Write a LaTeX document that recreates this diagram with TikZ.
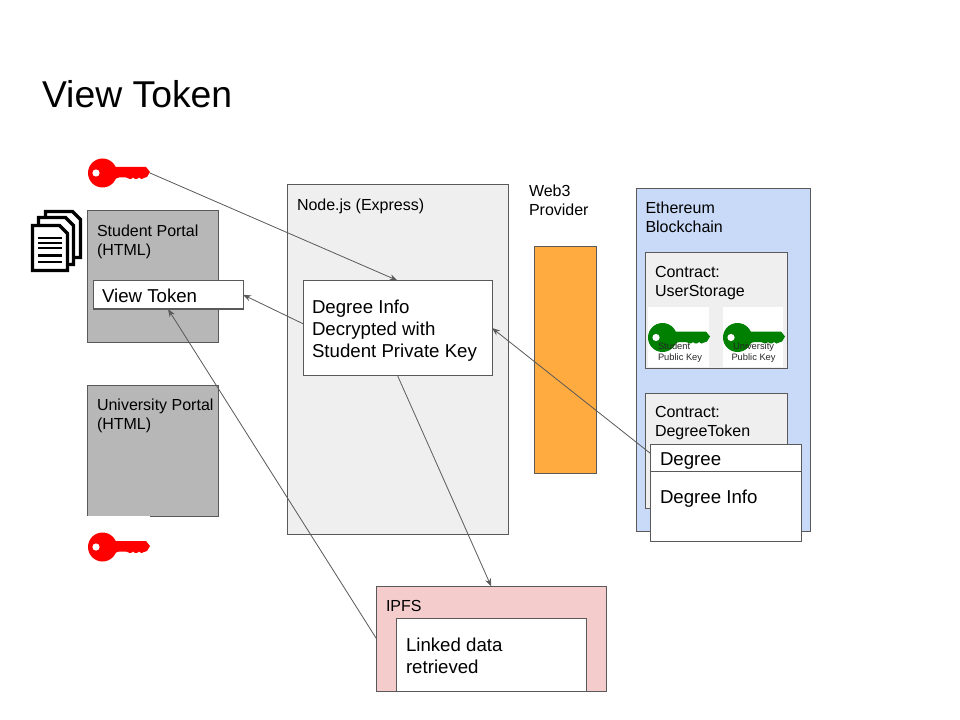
\documentclass[tikz,border=0pt]{standalone}
\usepackage{fontspec}
\setmainfont{Liberation Sans}
\usetikzlibrary{arrows.meta}
\definecolor{edgegray}{HTML}{595959}
\definecolor{panelgray}{HTML}{EFEFEF}
\definecolor{portalgray}{HTML}{B7B7B7}
\definecolor{chainblue}{HTML}{C9DAF8}
\definecolor{ipfspink}{HTML}{F4CCCC}
\definecolor{provorange}{HTML}{FFAB40}
\definecolor{keygreen}{HTML}{008000}
\definecolor{keyred}{HTML}{FF0000}
\newcommand{\bx}[6]{%
  \pgfmathsetlengthmacro{\bxw}{(#4-#2)*0.75pt}%
  \pgfmathsetlengthmacro{\bxh}{(#5-#3)*0.75pt}%
  \node[boxbase,#6,minimum width=\bxw,minimum height=\bxh] (#1) at ({(#2+#4)/2},{(#3+#5)/2}) {};}
\newcommand{\keyicon}[4]{% name, left x, centre y, colour
  \node[keyslot] (#1) at ({#2+31},#3) {};
  \begin{scope}[shift={(#2,#3)}]
    \fill[#4] (14.5,0) circle (14.5);
    \fill[#4]
      (25,-6) -- (58,-6) -- (62,-1) -- (59,4) -- (56,5)
      .. controls (55,6.5) and (52,6.5) .. (51,4.5)
      .. controls (50,6.5) and (46,6.5) .. (45,4.5)
      .. controls (44,6.5) and (40,6.5) .. (38,4.5)
      -- (31,4.5) -- (24,7) -- cycle;
    \fill[white] (8,0) circle (3.6);
  \end{scope}}
\newcommand{\docpage}[4]{% x0 y0 x1 y1 with fold
  \draw[black,line width=2.4pt,fill=white,line join=miter]
    (#1,#2) -- ({#3-8},#2) -- (#3,{#2+8}) -- (#3,#4) -- (#1,#4) -- cycle;}
\tikzset{
  boxbase/.style={rectangle,inner sep=0pt,outer sep=0pt,draw=edgegray,line width=0.75pt},
  keyslot/.style={rectangle,inner sep=0pt,outer sep=0pt,minimum width=46.5pt,minimum height=22.5pt},
  txt/.style={anchor=north west,inner sep=0pt,outer sep=0pt,align=left,text=black},
  mid/.style={txt,font=\fontsize{12}{14.3}\selectfont},
  big/.style={txt,font=\fontsize{14}{16.5}\selectfont},
  tiny/.style={txt,font=\fontsize{7}{8.3}\selectfont,text=black!85},
  link/.style={draw=edgegray,line width=0.6pt,-{Stealth[length=6pt,width=4.5pt]}}
}
\begin{document}
\begin{tikzpicture}[x=0.75pt,y=-0.75pt]
\useasboundingbox[fill=white] (0,0) rectangle (960,720);
\node[txt,font=\fontsize{28}{33}\selectfont] (title) at (42,80) {View Token};

% Document icon
\docpage{45.5}{211.5}{80.5}{257.5}
\docpage{38.5}{217.5}{73.5}{264.5}
\docpage{32.5}{225.5}{67.5}{270.5}
\foreach \ly in {238,243,248,255.5,262}{\draw[black,line width=1.9pt] (38,\ly) -- (62,\ly);}

% Portals
\bx{student}{87}{211}{218}{342}{fill=portalgray}
\bx{university}{87}{385.5}{218}{516.5}{fill=portalgray}
\fill[white] (85,516) rectangle (150,519);
\draw[edgegray,line width=0.75pt] (87,385.5) -- (87,516);
\node[mid] (studentlbl) at (97,225) {Student Portal\\(HTML)};
\node[mid] (universitylbl) at (97,399) {University Portal\\(HTML)};
\bx{viewtoken}{93}{280.5}{243}{309}{fill=white}
\node[big] (viewlbl) at (102,289) {View Token};

% Node.js
\bx{nodejs}{287}{185}{508}{534}{fill=panelgray}
\node[mid] (nodelbl) at (297,198.5) {Node.js (Express)};
\bx{info}{303}{280.5}{492}{375.5}{fill=white}
\node[big] (infolbl) at (312,299.5) {Degree Info\\Decrypted with\\Student Private Key};

% Provider
\node[mid] (weblbl) at (529,184.5) {Web3\\Provider};
\bx{provider}{534}{247}{596}{473}{fill=provorange}

% Ethereum
\bx{ethereum}{636}{189}{810}{531}{fill=chainblue}
\node[mid] (ethlbl) at (645.5,201.5) {Ethereum\\Blockchain};
\bx{userstorage}{645}{253}{787}{368}{fill=panelgray}
\node[mid] (userlbl) at (655,266.5) {Contract:\\UserStorage};
\fill[white] (648,307) rectangle (709,367.4);
\fill[white] (723,307) rectangle (783,367.4);
\keyicon{greenkeya}{648}{337.5}{keygreen}
\keyicon{greenkeyb}{723}{337.5}{keygreen}
\node[tiny] (stulbl) at (658,342.5) {Student\\Public Key};
\node[tiny,align=center] (unilbl) at (731.5,342.5) {University\\Public Key};
\bx{degreetoken}{645}{393}{787}{508}{fill=panelgray}
\node[mid] (tokenlbl) at (655,406.5) {Contract:\\DegreeToken};
\bx{degreeinfo}{650.5}{471}{801}{541}{fill=white}
\bx{degree}{650.5}{444}{801}{471}{fill=white}
\node[big] (degreelbl) at (660,452.5) {Degree};
\node[big] (degreeinfolbl) at (660,490) {Degree Info};

% IPFS
\bx{ipfs}{376.5}{586.5}{606}{691}{fill=ipfspink}
\node[mid] (ipfslbl) at (386,600) {IPFS};
\bx{linked}{396}{618}{586}{691}{fill=white}
\node[big] (linkedlbl) at (406,638) {Linked data\\retrieved};

% Keys
\keyicon{redkeya}{88}{173}{keyred}
\keyicon{redkeyb}{88}{547}{keyred}

% Connectors
\path[link] (redkeya.east) -- (info.north);
\path[link] ([yshift=3.2pt]info.west) -- (viewtoken.east);
\path[link] ([yshift=3pt]degree.west) -- (info.east);
\path[link] (info.south) -- (ipfs.north);
\path[link] (ipfs.west) -- (viewtoken.south);
\end{tikzpicture}
\end{document}
